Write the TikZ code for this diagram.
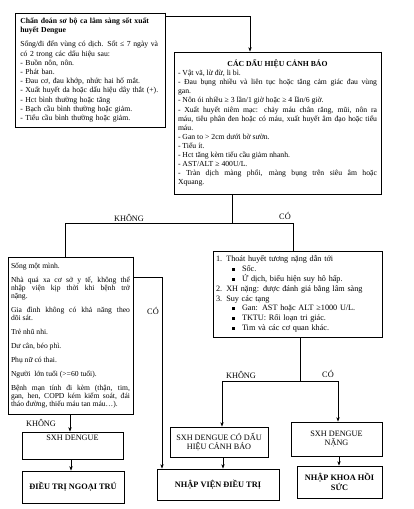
\documentclass[tikz,border=0pt]{standalone}
\usepackage{fontspec}
\setmainfont{Liberation Serif}
\usetikzlibrary{arrows.meta}
\newcommand\sqbul{\rule[0.9pt]{2.8pt}{2.8pt}}
\begin{document}
\begin{tikzpicture}[x=1pt,y=-1pt,
  box/.style={draw,line width=0.7pt,rectangle,inner ysep=0pt},
  lbl/.style={font=\fontsize{8.3}{9}\selectfont,inner sep=0pt,anchor=base},
  conn/.style={line width=0.8pt},
  shade/.style={line width=1.3pt},
  arr/.style={conn,-{Stealth[length=4.5pt,width=3.4pt]}},
  endbox/.style={box,align=center,inner xsep=2pt,font=\fontsize{8.2}{9.6}\selectfont},
  boldbox/.style={box,align=center,inner xsep=2pt,font=\fontsize{8.3}{9.8}\selectfont\bfseries}
]
\useasboundingbox[fill=white] (0,0) rectangle (413,509);

% Box 1
\node[box,font=\fontsize{7.7}{9.2}\selectfont,minimum width=150pt,minimum height=114pt,text width=139.5pt,inner xsep=5.25pt,align=left] (b1) at (90,70)
{\textbf{Chẩn đoán sơ bộ ca lâm sàng sốt xuất\\huyết Dengue}\\[5pt]
Sống/đi đến vùng có dịch. Sốt ≤ 7 ngày và\\
có 2 trong các dấu hiệu sau:\\
- Buồn nôn, nôn.\\
- Phát ban.\\
- Đau cơ, đau khớp, nhức hai hố mắt.\\
- Xuất huyết da hoặc dấu hiệu dây thắt (+).\\
- Hct bình thường hoặc tăng\\
- Bạch cầu bình thường hoặc giảm.\\
- Tiểu cầu bình thường hoặc giảm.};

% Box 2
\node[box,font=\fontsize{7.7}{9.05}\selectfont,minimum width=207pt,minimum height=142pt,text width=199pt,inner xsep=4pt,align=justify] (b2) at (277.5,123)
{\parindent=0pt\centerline{\bfseries CÁC DẤU HIỆU CẢNH BÁO}\par
- Vật vã, lừ đừ, li bì.\par
- Đau bụng nhiều và liên tục hoặc tăng cảm giác đau vùng\linebreak gan.\par
- Nôn ói nhiều ≥ 3 lần/1 giờ hoặc ≥ 4 lần/6 giờ.\par
- Xuất huyết niêm mạc: chảy máu chân răng, mũi, nôn ra\linebreak máu, tiêu phân đen hoặc có máu, xuất huyết âm đạo hoặc tiểu\linebreak máu.\par
- Gan to > 2cm dưới bờ sườn.\par
- Tiểu ít.\par
- Hct tăng kèm tiểu cầu giảm nhanh.\par
- AST/ALT ≥ 400U/L.\par
- Tràn dịch màng phổi, màng bụng trên siêu âm hoặc\linebreak Xquang.\par};

% Box 4 (left middle)
\node[box,font=\fontsize{7.6}{8}\selectfont,minimum width=125pt,minimum height=157pt,text width=119pt,inner xsep=3pt,align=justify] (b4) at (70.5,335.5)
{\parindent=0pt\parskip=6pt
Sống một mình.\par
Nhà quá xa cơ sở y tế, không thể\linebreak nhập viện kịp thời khi bệnh trở\linebreak nặng.\par
Gia đình không có khả năng theo\linebreak dõi sát.\par
Trẻ nhũ nhi.\par
Dư cân, béo phì.\par
Phụ nữ có thai.\par
Người\ \ lớn tuổi (>=60 tuổi).\par
Bệnh mạn tính đi kèm (thận, tim,\linebreak gan, hen, COPD kém kiểm soát, đái\linebreak tháo đường, thiếu máu tan máu…).\par};

% Box 3 (right middle)
\node[box,font=\fontsize{8.2}{9.85}\selectfont,minimum width=169pt,minimum height=86pt,text width=163pt,inner xsep=3pt,align=left] (b3) at (297.5,294)
{1. Thoát huyết tương nặng dẫn tới\\
\hspace*{16pt}\sqbul\hspace{7.2pt}Sốc.\\
\hspace*{16pt}\sqbul\hspace{7.2pt}Ứ dịch, biểu hiện suy hô hấp.\\
2. XH nặng: được đánh giá bằng lâm sàng\\
3. Suy các tạng\\
\hspace*{16pt}\sqbul\hspace{7.2pt}Gan: AST hoặc ALT ≥1000 U/L.\\
\hspace*{16pt}\sqbul\hspace{7.2pt}TKTU: Rối loạn tri giác.\\
\hspace*{16pt}\sqbul\hspace{7.2pt}Tim và các cơ quan khác.};

% heavier right and bottom edges (as in the scan)
\draw[shade] (b1.north east) -- (b1.south east) -- (b1.south west);
\draw[shade] (b2.north east) -- (b2.south east) -- (b2.south west);
\draw[shade] (b4.north east) -- (b4.south east) -- (b4.south west);

% Bottom boxes
\node[endbox,minimum width=101pt,minimum height=27pt] (s1) at (72.5,445.5) {SXH DENGUE\\[2pt]\strut};
\node[boldbox,minimum width=102pt,minimum height=32pt] (d1) at (73,487) {ĐIỀU TRỊ NGOẠI TRÚ};
\node[endbox,minimum width=98pt,minimum height=30pt] (s2) at (219,442) {SXH DENGUE CÓ DẤU\\HIỆU CẢNH BÁO};
\node[boldbox,minimum width=122pt,minimum height=31pt] (d2) at (218,484.5) {NHẬP VIỆN ĐIỀU TRỊ};
\node[endbox,minimum width=91pt,minimum height=34pt] (s3) at (336.5,439) {SXH DENGUE\\NẶNG};
\node[boldbox,minimum width=85pt,minimum height=32pt] (d3) at (339.5,482) {NHẬP KHOA HỒI\\SỨC};

% Connector points
\coordinate (c1) at (250,16);
\coordinate (j1) at (232,223);
\coordinate (l1) at (65,223);
\coordinate (r1) at (293,223);
\coordinate (k1) at (162,277);
\coordinate (a1) at (70,0);
\coordinate (a2) at (71,0);
\coordinate (j2) at (300,381);
\coordinate (l2) at (222,381);
\coordinate (r2) at (338,381);
\coordinate (a3) at (223,0);
\coordinate (a4) at (339,0);

% Connectors
\draw[arr] (b1.east |- c1) -- (c1) -- (c1 |- b2.north);
\draw[conn] (j1 |- b2.south) -- (j1);
\draw[conn] (l1 |- b4.north) -- (l1) -- (r1) -- (r1 |- b3.north);
\draw[arr] (b4.east |- k1) -- (k1) -- (k1 |- d2.north);
\draw[arr] (a1 |- b4.south) -- (a1 |- s1.north);
\draw[arr] (a2 |- s1.south) -- (a2 |- d1.north);
\draw[conn] (j2 |- b3.south) -- (j2);
\draw[arr] (l2) -- (r2) -- (r2 |- s3.north);
\draw[arr] (r2) -- (l2) -- (l2 |- s2.north);
\draw[arr] (a3 |- s2.south) -- (a3 |- d2.north);
\draw[arr] (a4 |- s3.south) -- (a4 |- d3.north);

% Labels
\node[lbl] (t1) at (129,221) {KHÔNG};
\node[lbl] (t2) at (285,219) {CÓ};
\node[lbl] (t3) at (153,314) {CÓ};
\node[lbl] (t4) at (41,426) {KHÔNG};
\node[lbl] (t5) at (241,378) {KHÔNG};
\node[lbl] (t6) at (328,377) {CÓ};
\end{tikzpicture}
\end{document}
